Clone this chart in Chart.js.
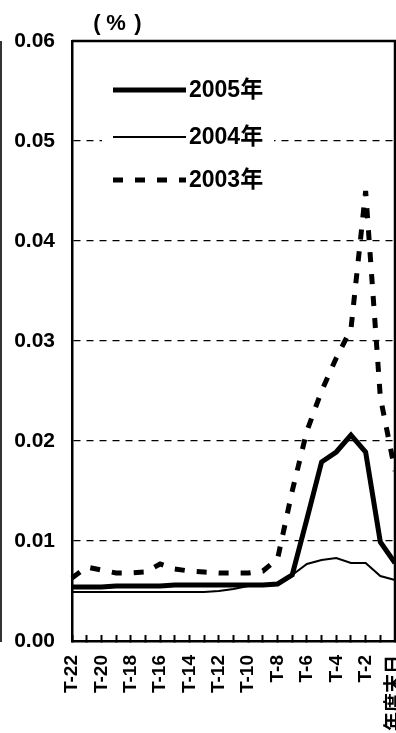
<!DOCTYPE html>
<html>
<head>
<meta charset="utf-8">
<script src="https://cdn.jsdelivr.net/npm/chart.js@4"></script>
<style>
  body { margin: 0; background: #fff; }
  canvas { display: block; }
</style>
</head>
<body>
<canvas id="my-chart" width="396" height="733"></canvas>
<script>
'use strict';

// ************************* DATA ***************************

let categories = ['T-22', 'T-21', 'T-20', 'T-19', 'T-18', 'T-17', 'T-16', 'T-15', 'T-14', 'T-13', 'T-12', 'T-11', 'T-10', 'T-9', 'T-8', 'T-7', 'T-6', 'T-5', 'T-4', 'T-3', 'T-2', 'T-1', '年度末日'];

let values2005 = [0.0054, 0.0054, 0.0054, 0.0055, 0.0055, 0.0055, 0.0055, 0.0056, 0.0056, 0.0056, 0.0056, 0.0056, 0.0056, 0.0056, 0.0057, 0.0066, 0.0122, 0.0179, 0.0189, 0.0206, 0.0189, 0.0099, 0.0078];
let values2004 = [0.0049, 0.0049, 0.0049, 0.0049, 0.0049, 0.0049, 0.0049, 0.0049, 0.0049, 0.0049, 0.0050, 0.0052, 0.0055, 0.0056, 0.0057, 0.0066, 0.0077, 0.0081, 0.0083, 0.0078, 0.0078, 0.0065, 0.0061];
let values2003 = [0.0063, 0.0074, 0.0071, 0.0068, 0.0068, 0.0069, 0.0077, 0.0072, 0.0070, 0.0069, 0.0068, 0.0068, 0.0068, 0.0070, 0.0082, 0.0150, 0.0210, 0.0250, 0.0283, 0.0312, 0.0450, 0.0244, 0.0170];

let seriesNames = ['2005年', '2004年', '2003年'];
let yTicks = [0, 0.01, 0.02, 0.03, 0.04, 0.05, 0.06];
let unitParts = ['(', '%', ')'];

// ************************* STYLE ***************************

let fontFamily = "'Liberation Sans', 'Noto Sans CJK JP', sans-serif";
let ink = '#000';
Chart.defaults.font.family = fontFamily;
Chart.defaults.color = ink;

// ********************** PLUGINS **************************

// frame on top and right, plus the legend box and (%) mark
let extras = {
  id: 'extras',
  beforeDatasetsDraw(chart) {
    let ctx = chart.ctx;
    let a = chart.chartArea;
    ctx.save();
    ctx.strokeStyle = ink;
    ctx.lineWidth = 2.5;
    ctx.beginPath();
    ctx.moveTo(a.left, a.top);
    ctx.lineTo(a.right, a.top);
    ctx.lineTo(a.right, a.bottom);
    ctx.stroke();

    // stray frame line of neighbouring panel
    ctx.strokeStyle = '#333';
    ctx.lineWidth = 2;
    ctx.beginPath();
    ctx.moveTo(1, a.top);
    ctx.lineTo(1, a.bottom + 1);
    ctx.stroke();

    // legend, white box over the grid
    ctx.fillStyle = '#fff';
    ctx.fillRect(102, 72, 172, 126);
    let rows = [90, 137, 180];
    chart.data.datasets.forEach(function(ds, i) {
      let y = rows[i];
      ctx.strokeStyle = ds.borderColor;
      ctx.lineWidth = ds.borderWidth;
      ctx.setLineDash(ds.borderDash || []);
      ctx.lineCap = 'butt';
      ctx.beginPath();
      ctx.moveTo(113, y);
      ctx.lineTo(186, y);
      ctx.stroke();
      ctx.setLineDash([]);
      ctx.fillStyle = ink;
      ctx.font = 'bold 23px ' + fontFamily;
      ctx.textBaseline = 'middle';
      ctx.textAlign = 'left';
      ctx.fillText(ds.label, 189, y + 1);
    });

    // (%) with wide spacing like the scan
    ctx.font = 'bold 22px ' + fontFamily;
    ctx.textAlign = 'center';
    ctx.textBaseline = 'middle';
    let xs = [97, 116, 138];
    unitParts.forEach(function(s, i) { ctx.fillText(s, xs[i], 24); });
    ctx.restore();
  }
};

// ********************** CHART **************************

let ctx = document.getElementById('my-chart').getContext('2d');

new Chart(ctx, {
  type: 'line',
  data: {
    labels: categories,
    datasets: [
      { label: seriesNames[0], data: values2005, borderColor: ink, borderWidth: 5, pointRadius: 0, tension: 0, borderJoinStyle: 'miter' },
      { label: seriesNames[1], data: values2004, borderColor: ink, borderWidth: 2, pointRadius: 0, tension: 0 },
      { label: seriesNames[2], data: values2003, borderColor: ink, borderWidth: 5, borderDash: [10, 12], borderCapStyle: 'butt', pointRadius: 0, tension: 0 }
    ]
  },
  options: {
    responsive: false,
    animation: false,
    layout: { padding: { top: 41, right: 1, bottom: 0, left: 0 } },
    plugins: {
      legend: { display: false },
      tooltip: { enabled: false }
    },
    scales: {
      x: {
        offset: false,
        grid: {
          drawOnChartArea: false,
          drawTicks: true,
          tickLength: -6,
          tickWidth: 2,
          tickColor: ink
        },
        border: { display: true, color: ink, width: 2.5 },
        ticks: {
          autoSkip: false,
          minRotation: 90,
          maxRotation: 90,
          padding: 20,
          color: ink,
          font: { size: 19, weight: 'bold' },
          callback: function(value, index) {
            return index % 2 === 0 ? this.getLabelForValue(value) : '';
          }
        },
        afterFit: function(scale) {
          scale.height = 92;
          scale.paddingLeft = 0;
          scale.paddingRight = 0;
        }
      },
      y: {
        min: yTicks[0],
        max: yTicks[yTicks.length - 1],
        afterBuildTicks: function(scale) {
          scale.ticks = yTicks.map(function(v) { return { value: v }; });
        },
        grid: {
          drawTicks: false,
          lineWidth: 1.2,
          color: function(c) {
            let v = c.tick ? c.tick.value : 0;
            return (v === yTicks[0] || v === yTicks[yTicks.length - 1]) ? 'rgba(0,0,0,0)' : ink;
          }
        },
        border: { display: true, color: ink, width: 2.5, dash: [7, 6] },
        ticks: {
          padding: 17,
          color: ink,
          font: { size: 21, weight: 'bold' },
          callback: function(v) { return v.toFixed(2); }
        },
        afterFit: function(scale) {
          scale.width = 72;
          scale.paddingTop = 0;
          scale.paddingBottom = 0;
        }
      }
    }
  },
  plugins: [extras]
});
</script>
</body>
</html>
